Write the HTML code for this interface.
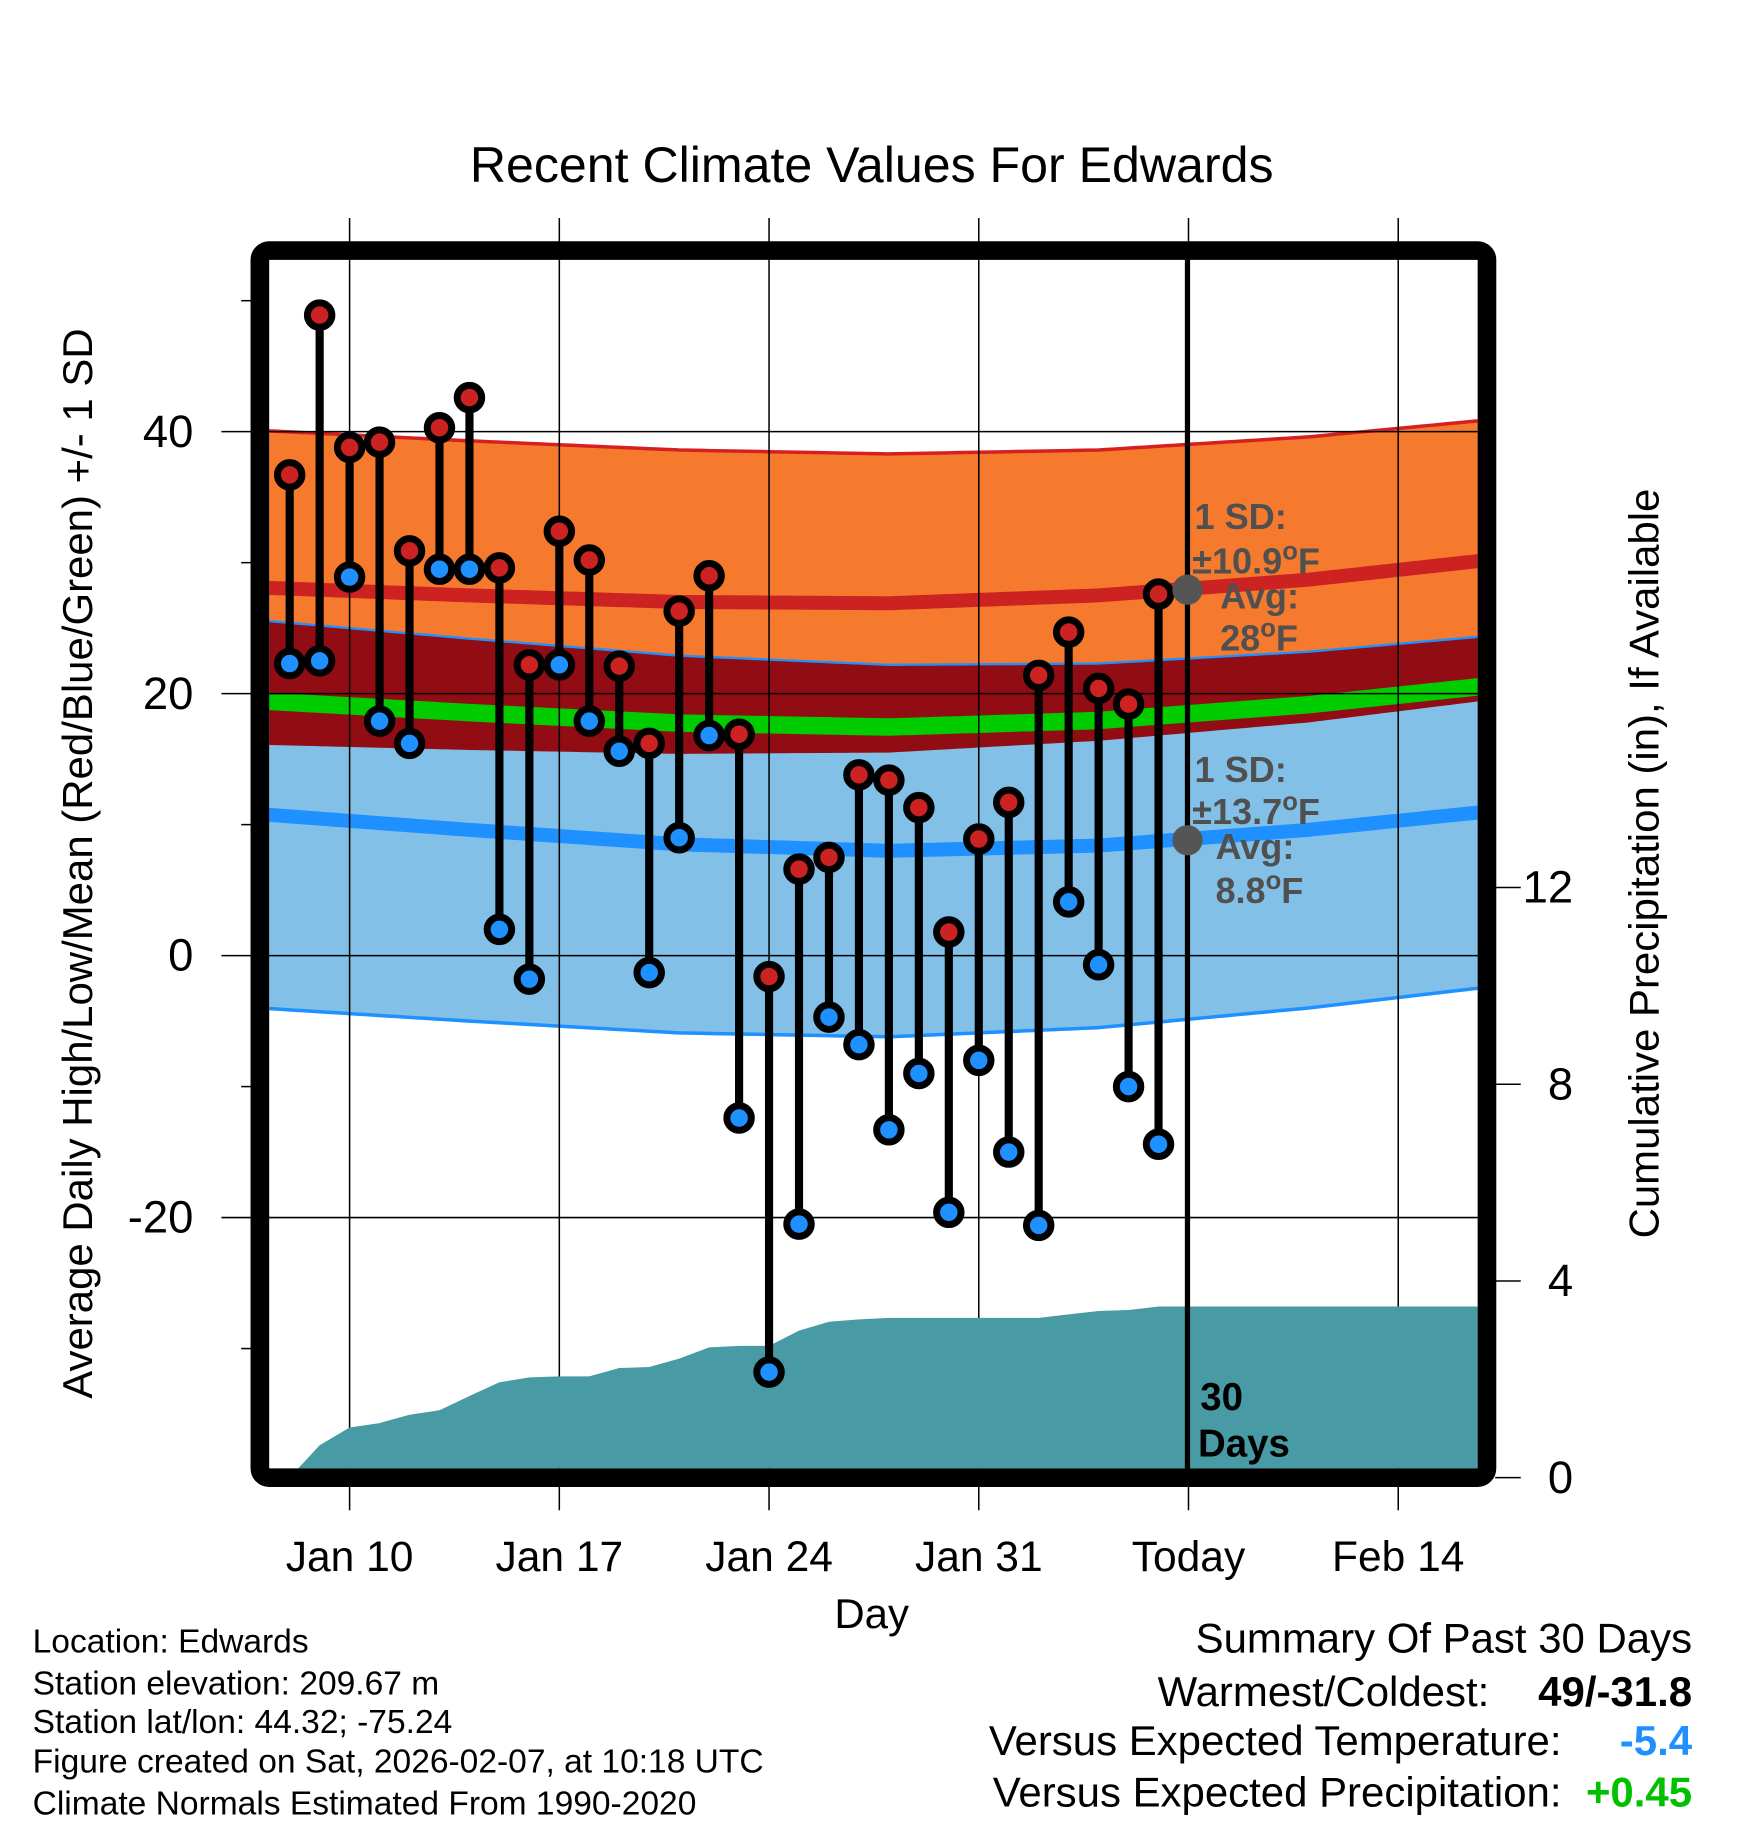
<!DOCTYPE html>
<html><head><meta charset="utf-8"><style>
html,body{margin:0;padding:0;background:#fff}
svg{display:block}
text{font-family:"Liberation Sans",Arial,sans-serif}
</style></head><body>
<svg id="chart" width="1748" height="1828" viewBox="0 0 1500 1568.6" xmlns="http://www.w3.org/2000/svg">
<defs><clipPath id="plotclip"><rect x="231" y="223" width="1037" height="1037"/></clipPath></defs>
<text x="748" y="156" font-size="43" text-anchor="middle">Recent Climate Values For Edwards</text>
<g id="bands" clip-path="url(#plotclip)"></g>
<g id="grid"></g>
<g id="precip" clip-path="url(#plotclip)"></g>
<g id="bars"></g>
<g id="annot">
<line x1="1019" y1="223" x2="1019" y2="1260" stroke="#000" stroke-width="4.5"/>
<circle cx="1019" cy="506" r="13" fill="#555"/>
<circle cx="1019" cy="721" r="13" fill="#555"/>
<g font-size="31" font-weight="bold" fill="#505050">
<text x="1025" y="454">1 SD:</text>
<text x="1023" y="492">±10.9<tspan font-size="22" dy="-12">o</tspan><tspan dy="12">F</tspan></text>
<text x="1047" y="522">Avg:</text>
<text x="1047" y="558">28<tspan font-size="22" dy="-12">o</tspan><tspan dy="12">F</tspan></text>
<text x="1025" y="671">1 SD:</text>
<text x="1023" y="707">±13.7<tspan font-size="22" dy="-12">o</tspan><tspan dy="12">F</tspan></text>
<text x="1043" y="737">Avg:</text>
<text x="1043" y="775">8.8<tspan font-size="22" dy="-12">o</tspan><tspan dy="12">F</tspan></text>
</g>
<text x="1030" y="1210" font-size="33" font-weight="bold">30</text>
<text x="1028" y="1250" font-size="33" font-weight="bold">Days</text>
</g>
<rect x="223" y="215" width="1053" height="1053" rx="8" fill="none" stroke="#000" stroke-width="16"/>
<g id="axes"></g>
<text x="748" y="1397" font-size="36" text-anchor="middle">Day</text>
<text transform="translate(79,741) rotate(-90)" font-size="36" text-anchor="middle">Average Daily High/Low/Mean (Red/Blue/Green) +/- 1 SD</text>
<text transform="translate(1423,741) rotate(-90)" font-size="36" text-anchor="middle">Cumulative Precipitation (in), If Available</text>
<g font-size="28.8">
<text x="28" y="1418">Location: Edwards</text>
<text x="28" y="1454">Station elevation: 209.67 m</text>
<text x="28" y="1487">Station lat/lon: 44.32; -75.24</text>
<text x="28" y="1521">Figure created on Sat, 2026-02-07, at 10:18 UTC</text>
<text x="28" y="1557">Climate Normals Estimated From 1990-2020</text>
</g>
<g font-size="36">
<text x="1452" y="1418" text-anchor="end">Summary Of Past 30 Days</text>
<text x="1278" y="1464" text-anchor="end">Warmest/Coldest:</text>
<text x="1452" y="1464" text-anchor="end" font-weight="bold">49/-31.8</text>
<text x="1340" y="1506" text-anchor="end">Versus Expected Temperature:</text>
<text x="1452" y="1506" text-anchor="end" font-weight="bold" fill="#1e90ff">-5.4</text>
<text x="1340" y="1550" text-anchor="end">Versus Expected Precipitation:</text>
<text x="1452" y="1550" text-anchor="end" font-weight="bold" fill="#00c000">+0.45</text>
</g>
</svg>
<script>
const days = [8,9,10,11,12,13,14,15,16,17,18,19,20,21,22,23,24,25,26,27,28,29,30,31,32,33,34,35,36,37];
const highs = [36.7,48.9,38.8,39.2,30.9,40.3,42.6,29.6,22.2,32.4,30.2,22.1,16.2,26.3,29.0,16.9,-1.6,6.6,7.5,13.8,13.4,11.3,1.8,8.9,11.7,21.4,24.7,20.4,19.2,27.6];
const lows = [22.3,22.5,28.9,17.9,16.2,29.5,29.5,2.0,-1.8,22.2,17.9,15.6,-1.3,9.0,16.8,-12.4,-31.8,-20.5,-4.7,-6.8,-13.3,-9.0,-19.6,-8.0,-15.0,-20.6,4.1,-0.7,-10.0,-14.4];
const precip = [0.0,0.66,1.02,1.11,1.28,1.37,1.66,1.94,2.04,2.06,2.06,2.23,2.25,2.42,2.65,2.68,2.68,2.99,3.17,3.22,3.25,3.25,3.25,3.25,3.25,3.25,3.32,3.39,3.41,3.48];
const normDays = [7,14,21,28,35,42,48];
const normHigh = [28.1,27.5,27.0,26.9,27.5,28.7,30.2];
const normLow = [10.8,9.6,8.5,8.0,8.4,9.6,11.0];
const sdHigh = [12.0,11.8,11.6,11.4,11.1,10.9,10.7];
const sdLow = [14.8,14.6,14.4,14.2,13.9,13.6,13.4];
const xTickDays = [10,17,24,31,38,45];
const xTickLabels = ["Jan 10","Jan 17","Jan 24","Jan 31","Today","Feb 14"];
const yTicks = [40,20,0,-20];
const yMinor = [50,30,10,-10,-30];
const y2Ticks = [0,4,8,12];

const NS="http://www.w3.org/2000/svg";
const X = d => 300 + (d-10)*25.71;
const Y = t => 820 - t*11.24;
const Y2 = p => 1268 - p*42.2;
function mk(tag, attrs, parent){const e=document.createElementNS(NS,tag);for(const k in attrs)e.setAttribute(k,attrs[k]);parent.appendChild(e);return e;}
function interp(arr,d){for(let i=0;i<normDays.length-1;i++){if(d<=normDays[i+1]){const f=(d-normDays[i])/(normDays[i+1]-normDays[i]);return arr[i]+f*(arr[i+1]-arr[i]);}}return arr[arr.length-1];}
const samples=[];for(let d=7;d<=48.001;d+=0.25)samples.push(d);
const hi=samples.map(d=>interp(normHigh,d)), lo=samples.map(d=>interp(normLow,d));
const sh=samples.map(d=>interp(sdHigh,d)), sl=samples.map(d=>interp(sdLow,d));
function band(top,bot){let s="M"+samples.map((d,i)=>X(d)+","+Y(top[i])).join(" L");s+=" L"+samples.slice().reverse().map((d,j)=>X(d)+","+Y(bot[samples.length-1-j])).join(" L")+" Z";return s;}
function line(v){return "M"+samples.map((d,i)=>X(d)+","+Y(v[i])).join(" L");}
const bands=document.getElementById('bands');
const hiP=hi.map((v,i)=>v+sh[i]),hiM=hi.map((v,i)=>v-sh[i]),loP=lo.map((v,i)=>v+sl[i]),loM=lo.map((v,i)=>v-sl[i]);
const mean=hi.map((v,i)=>(v+lo[i])/2);
let e;
e=mk('path',{d:band(hiP,hiM),fill:'#f57a2e'},bands);


e=mk('path',{d:band(loP,loM),fill:'#82c0e8'},bands);


const ov=samples.map((d,i)=>Math.min(hiP[i],loP[i])), ovb=hiM;
e=mk('path',{d:band(ov,ovb),fill:'#920c13'},bands);


[[hiP,'#d62020',3],[loP,'#1e90ff',2],[loM,'#1e90ff',3],[hi,'#cc2222',12],[lo,'#1e90ff',12],[mean,'#00cc00',15]].forEach(([v,c,w],i)=>{
 e=mk('path',{d:line(v),fill:'none',stroke:c,'stroke-width':w},bands);
 
 
});
const grid=document.getElementById('grid');
xTickDays.forEach(d=>{
 e=mk('line',{x1:X(d),x2:X(d),y1:187,y2:1296,stroke:'#000','stroke-width':1.3},grid);
 
 
});
yTicks.forEach(t=>{
 e=mk('line',{x1:190,x2:1268,y1:Y(t),y2:Y(t),stroke:'#000','stroke-width':1.3},grid);
 
 
});
const pr=document.getElementById('precip');
let pd="M"+X(days[0])+","+Y2(0)+" "+days.map((d,i)=>"L"+X(d)+","+Y2(precip[i])).join(" ")+" L1270,"+Y2(precip[precip.length-1])+" L1270,1270 L"+X(days[0])+",1270 Z";
e=mk('path',{d:pd,fill:'#489ba5'},pr);


const bars=document.getElementById('bars');
days.forEach((d,i)=>{
 const g=mk('g',{},bars);
 
 
 e=mk('line',{x1:X(d),x2:X(d),y1:Y(highs[i]),y2:Y(lows[i]),stroke:'#000','stroke-width':7},g);
 
 
 e=mk('circle',{cx:X(d),cy:Y(highs[i]),r:10.5,fill:'#cc2222',stroke:'#000','stroke-width':6},g);
 
 
 e=mk('circle',{cx:X(d),cy:Y(lows[i]),r:10.5,fill:'#1e90ff',stroke:'#000','stroke-width':6},g);
 
 
});
const ax=document.getElementById('axes');
xTickDays.forEach((d,i)=>{
 e=mk('text',{x:X(d),y:1348,'font-size':36.5,'text-anchor':'middle'},ax);
 e.textContent=xTickLabels[i];
 
 
});
yTicks.forEach(t=>{
 e=mk('text',{x:166,y:Y(t)+13,'font-size':39,'text-anchor':'end'},ax);
 e.textContent=String(t);
 
 
});
yMinor.forEach(t=>{
 e=mk('line',{x1:207,x2:216,y1:Y(t),y2:Y(t),stroke:'#000','stroke-width':1.3},ax);
 
 
});
y2Ticks.forEach(p=>{
 e=mk('line',{x1:1283,x2:1305,y1:Y2(p),y2:Y2(p),stroke:'#000','stroke-width':1.3},ax);
 
 
 e=mk('text',{x:1350,y:Y2(p)+13,'font-size':39,'text-anchor':'end'},ax);
 e.textContent=String(p);
 
 
});
</script>
</body></html>
